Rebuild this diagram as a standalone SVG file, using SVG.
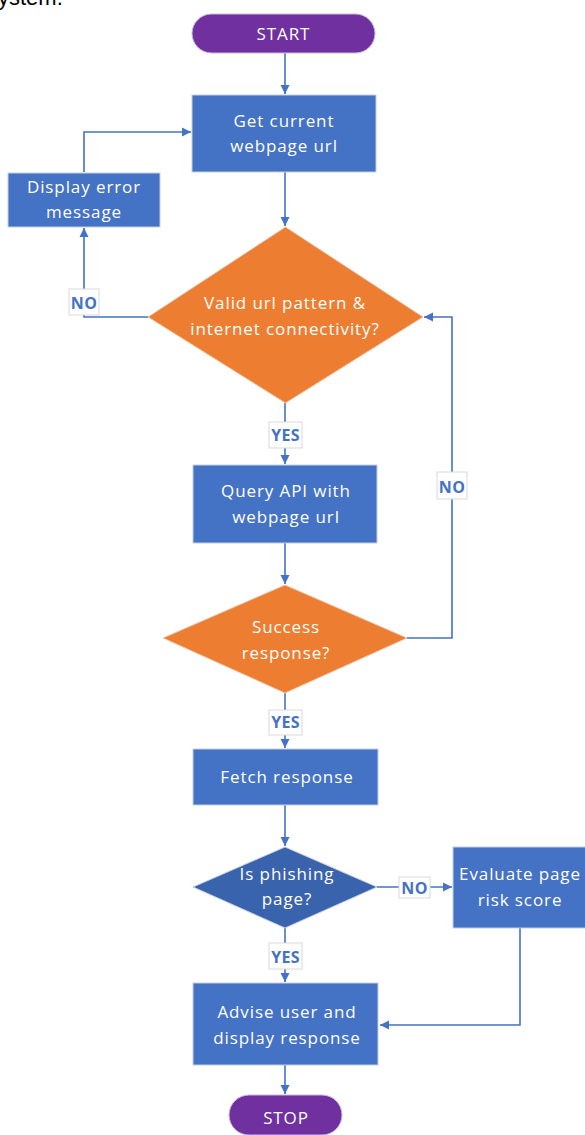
<svg xmlns="http://www.w3.org/2000/svg" width="585" height="1135" viewBox="0 0 585 1135">
<defs>
<marker id="arr" markerWidth="10" markerHeight="10" refX="9" refY="5" orient="auto" markerUnits="userSpaceOnUse">
<path d="M0,0.5 L9,5 L0,9.5 Z" fill="#4472C4"/>
</marker>
<style>
.box{fill:#4472C4;stroke:#c5cfe0;stroke-width:1}
.term{fill:#7030A0;stroke:#c9bcd6;stroke-width:1}
.dec{fill:#ED7D31;stroke:#e9c9b0;stroke-width:1}
.dec2{fill:#3A63AE;stroke:#c5cfe0;stroke-width:1}
.t{font-family:"Open Sans","Noto Sans",sans-serif;font-size:17px;fill:#ffffff;text-anchor:middle;letter-spacing:0.9px}
.lblbox{fill:#ffffff;stroke:#d9d9d9;stroke-width:1}
.lbl{font-family:"Open Sans","Noto Sans",sans-serif;font-size:16px;font-weight:bold;fill:#4472C4;text-anchor:middle;letter-spacing:0.3px}
.c{fill:none;stroke:#4472C4;stroke-width:1.6}
</style>
</defs>
<rect width="585" height="1135" fill="#ffffff"/>
<text x="-2" y="5" font-family="Liberation Sans, Arial, sans-serif" font-size="22" fill="#000">ystem.</text>

<g id="connectors">
<path class="c" d="M285,53 L285,94" marker-end="url(#arr)"/>
<path class="c" d="M285,172 L285,226" marker-end="url(#arr)"/>
<path class="c" d="M148,317 L84,317 L84,228" marker-end="url(#arr)"/>
<path class="c" d="M84,172 L84,132 L191,132" marker-end="url(#arr)"/>
<path class="c" d="M285,403 L285,464" marker-end="url(#arr)"/>
<path class="c" d="M285,543 L285,584" marker-end="url(#arr)"/>
<path class="c" d="M407,638 L452,638 L452,317 L424,317" marker-end="url(#arr)"/>
<path class="c" d="M285,693 L285,748" marker-end="url(#arr)"/>
<path class="c" d="M285,805 L285,846" marker-end="url(#arr)"/>
<path class="c" d="M377,887 L452,887" marker-end="url(#arr)"/>
<path class="c" d="M285,928 L285,982" marker-end="url(#arr)"/>
<path class="c" d="M520,928 L520,1025 L380,1025" marker-end="url(#arr)"/>
<path class="c" d="M285,1065 L285,1094" marker-end="url(#arr)"/>
</g>

<g id="labels">
<rect class="lblbox" x="69" y="289" width="30" height="26"/>
<text class="lbl" x="84" y="309">NO</text>
<rect class="lblbox" x="269" y="422" width="33" height="26"/>
<text class="lbl" x="285.5" y="441">YES</text>
<rect class="lblbox" x="437" y="472" width="30" height="27"/>
<text class="lbl" x="452" y="493">NO</text>
<rect class="lblbox" x="269" y="710" width="33" height="25"/>
<text class="lbl" x="285.5" y="728">YES</text>
<rect class="lblbox" x="399" y="877" width="31" height="21"/>
<text class="lbl" x="414.5" y="894">NO</text>
<rect class="lblbox" x="269" y="943" width="33" height="26"/>
<text class="lbl" x="285.5" y="963">YES</text>
</g>

<g id="start">
<rect class="term" x="192" y="14" width="183" height="39" rx="19.5"/>
<text class="t" x="283.5" y="40">START</text>
</g>

<g id="get-url">
<rect class="box" x="192" y="95" width="184" height="77"/>
<text class="t" x="284" y="127">Get current</text>
<text class="t" x="284" y="152">webpage url</text>
</g>

<g id="display-error">
<rect class="box" x="8" y="173" width="152" height="54"/>
<text class="t" x="84" y="193">Display error</text>
<text class="t" x="84" y="218">message</text>
</g>

<g id="valid-check">
<polygon class="dec" points="285.5,227 423,317 285.5,403 148,317"/>
<text class="t" x="285" y="309">Valid url pattern &amp;</text>
<text class="t" x="285" y="335">internet connectivity?</text>
</g>

<g id="query-api">
<rect class="box" x="193" y="465" width="184" height="78"/>
<text class="t" x="286" y="497">Query API with</text>
<text class="t" x="286" y="523">webpage url</text>
</g>

<g id="success-check">
<polygon class="dec" points="285,585 407,638 285,693 163,638"/>
<text class="t" x="286" y="633">Success</text>
<text class="t" x="286" y="659">response?</text>
</g>

<g id="fetch-response">
<rect class="box" x="193" y="749" width="185" height="56"/>
<text class="t" x="287" y="783">Fetch response</text>
</g>

<g id="phishing-check">
<polygon class="dec2" points="285,847 377,887 285,928 193,887"/>
<text class="t" x="287" y="880">Is phishing</text>
<text class="t" x="287" y="905">page?</text>
</g>

<g id="evaluate-risk">
<rect class="box" x="453" y="847" width="134" height="81"/>
<text class="t" x="520" y="880">Evaluate page</text>
<text class="t" x="520" y="906">risk score</text>
</g>

<g id="advise-user">
<rect class="box" x="193" y="983" width="185" height="82"/>
<text class="t" x="287" y="1018">Advise user and</text>
<text class="t" x="287" y="1044">display response</text>
</g>

<g id="stop">
<rect class="term" x="229" y="1095" width="113" height="40" rx="20"/>
<text class="t" x="286" y="1124">STOP</text>
</g>
</svg>
